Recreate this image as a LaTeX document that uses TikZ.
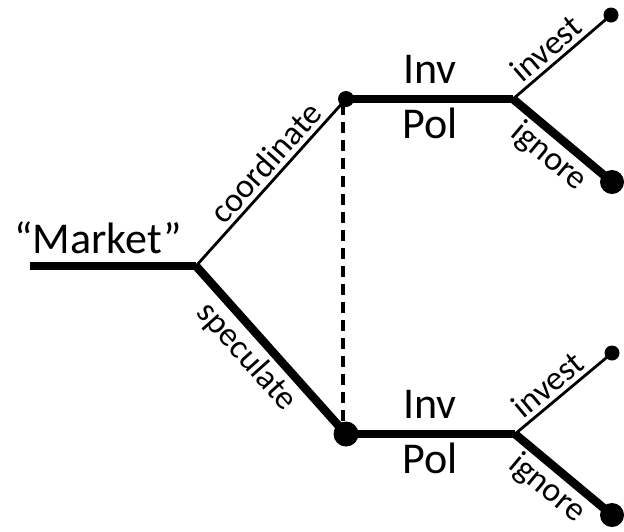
\documentclass[tikz,border=0pt]{standalone}
\usepackage{fontspec}
\setmainfont{Carlito}
\begin{document}
\begin{tikzpicture}[x=1pt,y=-1pt,
  thick branch/.style={line width=8.5pt},
  thin branch/.style={line width=2.8pt},
  dot/.style={circle,fill=black,inner sep=0pt,minimum size=#1},
  big/.style={font=\fontsize{44}{48}\selectfont},
  lbl/.style={font=\fontsize{34}{38}\selectfont,sloped,inner sep=4pt}]
\useasboundingbox (0,0) rectangle (624,531);

% tree points
\coordinate (start) at (30,266);
\coordinate (root) at (196,266);
\node[dot=16pt] (up) at (346,99) {};
\node[dot=25pt] (low) at (346,434) {};
\coordinate (uj) at (513,99);
\coordinate (lj) at (515,434);
\node[dot=15pt] (ui) at (611,15) {};
\node[dot=24pt] (ug) at (612,182) {};
\node[dot=15pt] (li) at (612,353) {};
\node[dot=24pt] (lg) at (612,515) {};

% information set
\draw[line width=3.5pt,dash pattern=on 11pt off 7pt] (343,104) -- (343,426);

% branches
\draw[thick branch] (start) -- (root);
\draw[thin branch] (root) -- node[lbl,above,pos=0.55] {coordinate} (up.center);
\draw[thick branch] (root) -- node[lbl,below,pos=0.45] {speculate} (low.center);
\draw[thick branch] (up.center) -- (uj);
\draw[thick branch] (low.center) -- (lj);
\draw[thin branch] (uj) -- node[lbl,above,pos=0.45] {invest} (ui.center);
\draw[thick branch] (uj) -- node[lbl,below,pos=0.5,inner sep=2.5pt] {ignore} (ug.center);
\draw[thin branch] (lj) -- node[lbl,above,pos=0.45] {invest} (li.center);
\draw[thick branch] (lj) -- node[lbl,below,pos=0.47,inner sep=2.5pt] {ignore} (lg.center);

% labels
\node[big,anchor=base] (mkt) at (98,253) {“Market”};
\node[big,anchor=base] (uinv) at (430,83) {Inv};
\node[big,anchor=base] (upol) at (430,138) {Pol};
\node[big,anchor=base] (linv) at (430,418) {Inv};
\node[big,anchor=base] (lpol) at (430,473) {Pol};
\end{tikzpicture}
\end{document}
